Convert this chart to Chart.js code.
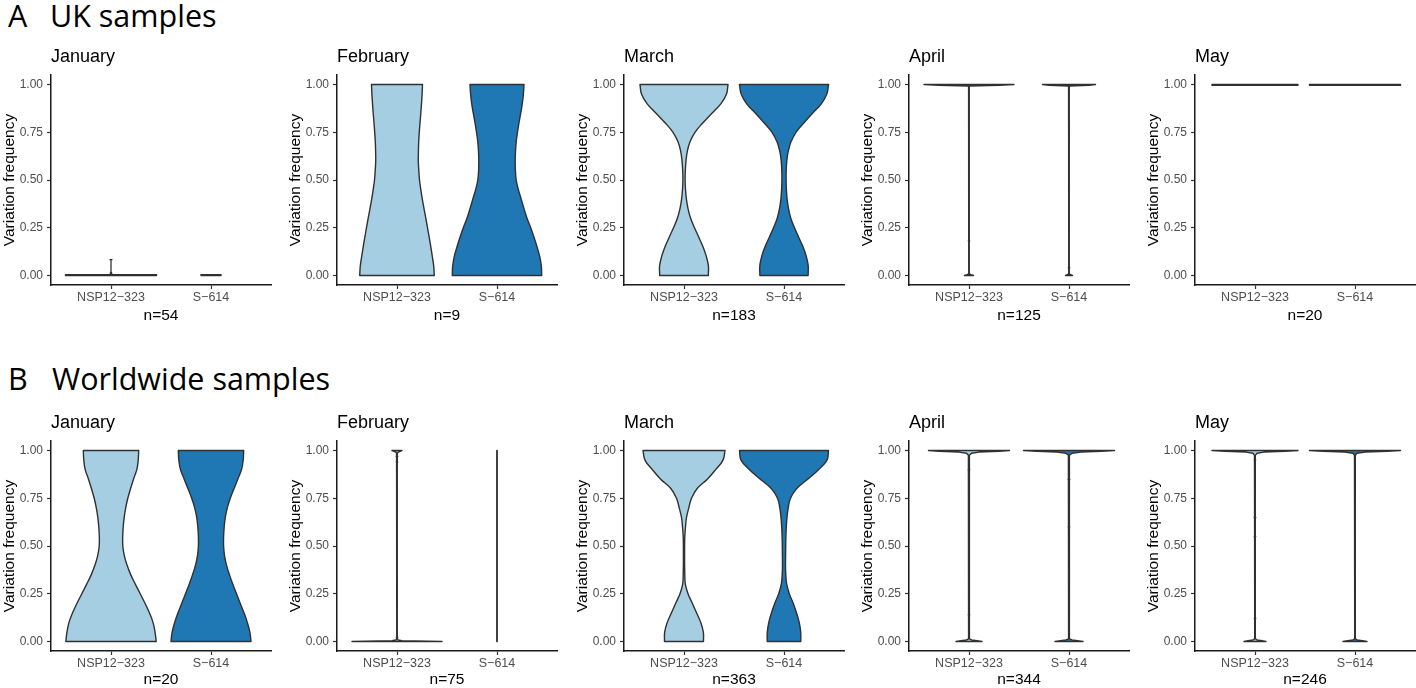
<!DOCTYPE html>
<html>
<head>
<meta charset="utf-8">
<script src="https://cdn.jsdelivr.net/npm/chart.js@4.4.0/dist/chart.umd.min.js"></script>
<style>
  html, body { margin: 0; padding: 0; background: #fff; overflow: hidden; }
  body { position: relative; width: 1416px; height: 688px; }
  .head { position: absolute; font-family: "Open Sans", sans-serif; font-size: 30.5px; line-height: 1; color: #000; white-space: pre; }
</style>
</head>
<body>
<div class="head" style="left:8px;top:0px">A</div>
<div class="head" style="left:50px;top:0px">UK samples</div>
<div class="head" style="left:8px;top:363px">B</div>
<div class="head" style="left:52px;top:363px">Worldwide samples</div>

<script>
// ---- data ----
const months = ['January', 'February', 'March', 'April', 'May'];
const variants = ['NSP12\u2212323', 'S\u2212614'];
const ukCounts = [54, 9, 183, 125, 20];
const wwCounts = [20, 75, 363, 344, 246];
const yTicks = [0, 0.25, 0.5, 0.75, 1];
const fillColors = ['#a6cee3', '#1f78b4'];

// violin half-widths (category units) at these frequency levels
const smoothLevels = [0, .05, .1, .15, .2, .25, .3, .35, .4, .45, .5, .55, .6, .65, .7, .75, .8, .85, .9, .95, 1];
const spikeLevels = [0, .004, .008, .014, .025, .5, .975, .986, .992, .996, 1];

// UK samples
const ukJanNsp = [.455, .455, null, null, null, null, null, null, null, null, null];
const ukJanS = [.1, .1, null, null, null, null, null, null, null, null, null];
const ukFebNsp = [.373, .367, .353, .338, .322, .305, .288, .27, .253, .238, .225, .218, .213, .214, .217, .223, .23, .238, .245, .251, .255];
const ukFebS = [.447, .443, .427, .40, .37, .337, .30, .27, .242, .213, .192, .184, .182, .185, .192, .205, .22, .237, .253, .264, .27];
const ukMarNsp = [.243, .244, .223, .19, .148, .105, .066, .04, .024, .015, .011, .013, .02, .033, .06, .11, .19, .28, .37, .425, .44];
const ukMarS = [.241, .242, .223, .19, .147, .105, .068, .045, .031, .024, .021, .022, .028, .042, .07, .12, .2, .285, .375, .428, .446];
const ukAprNsp = [.045, .02, .005, .002, .002, .002, .002, .002, .004, .3, .45];
const ukAprS = [.035, .015, .005, .002, .002, .002, .002, .002, .004, .2, .265];
const ukMayNsp = [null, null, null, null, null, null, null, null, null, .43, .43];
const ukMayS = [null, null, null, null, null, null, null, null, null, .455, .455];

// Worldwide samples
const wwJanNsp = [.452, .44, .42, .384, .34, .292, .243, .197, .16, .133, .118, .117, .122, .132, .147, .168, .195, .225, .258, .272, .277];
const wwJanS = [.40, .388, .363, .33, .292, .255, .218, .184, .155, .135, .126, .126, .132, .143, .163, .193, .23, .268, .305, .322, .327];
const wwFebNsp = [.45, .05, .01, .004, .002, .002, .002, .004, .012, .03, .05];
const wwFebS = [.002, .002, .002, .002, .002, .002, .002, .002, .002, .002, .002];
const wwMarNsp = [.195, .193, .167, .125, .083, .04, .013, .008, .006, .006, .006, .008, .015, .025, .048, .075, .13, .233, .317, .39, .41];
const wwMarS = [.168, .167, .152, .125, .092, .053, .027, .018, .015, .016, .017, .019, .023, .03, .042, .065, .125, .237, .345, .43, .445];
const wwAprNsp = [.13, .08, .025, .006, .003, .003, .006, .025, .1, .3, .405];
const wwAprS = [.14, .085, .03, .006, .003, .003, .006, .03, .12, .32, .455];
const wwMayNsp = [.11, .07, .02, .005, .002, .002, .005, .02, .09, .3, .43];
const wwMayS = [.12, .075, .02, .005, .002, .002, .005, .02, .1, .32, .455];

// single observations drawn as small points
const ukJanNspDots = [0.012];
const ukJanNspWhisker = [0, 0.083];
const ukAprNspDots = [0.18];
const ukAprSDots = [0.04];
const wwFebNspDots = [0.02, 0.94, 0.97];
const wwAprNspDots = [0.14, 0.9];
const wwAprSDots = [0.6, 0.85];
const wwMayNspDots = [0.12, 0.55, 0.65, 0.95];

// ---- layout ----
Chart.defaults.font.family = "'Liberation Sans', Arial, sans-serif";
const panelAxisX = [51, 337, 624, 909, 1195];
const rows = [
  { top: 30, height: 295, xHeight: 40, counts: ukCounts,
    violins: [[ukJanNsp, ukJanS], [ukFebNsp, ukFebS], [ukMarNsp, ukMarS], [ukAprNsp, ukAprS], [ukMayNsp, ukMayS]],
    dots: [[ukJanNspDots, []], [[], []], [[], []], [ukAprNspDots, ukAprSDots], [[], []]],
    whisker: [ukJanNspWhisker, null, null, null, null] },
  { top: 396, height: 293, xHeight: 38, counts: wwCounts,
    violins: [[wwJanNsp, wwJanS], [wwFebNsp, wwFebS], [wwMarNsp, wwMarS], [wwAprNsp, wwAprS], [wwMayNsp, wwMayS]],
    dots: [[[], []], [wwFebNspDots, []], [[], []], [wwAprNspDots, wwAprSDots], [wwMayNspDots, []]],
    whisker: [null, null, null, null, null] }
];

function violinPoints(center, widths) {
  const levels = widths.length === smoothLevels.length ? smoothLevels : spikeLevels;
  const idx = [];
  widths.forEach((w, i) => { if (w !== null) idx.push(i); });
  const right = idx.map(i => ({ x: center + widths[i], y: levels[i] }));
  const left = idx.slice().reverse().map(i => ({ x: center - widths[i], y: levels[i] }));
  const y0 = levels[idx[0]];
  const y1 = levels[idx[idx.length - 1]];
  // corners are doubled so the curve stays sharp there
  return [
    { x: center, y: y0 }, right[0], ...right, right[right.length - 1],
    { x: center, y: y1 }, left[0], ...left, left[left.length - 1],
    { x: center, y: y0 }
  ];
}

function violinDataset(center, widths, color) {
  return {
    data: violinPoints(center, widths),
    showLine: true,
    fill: 'shape',
    backgroundColor: color,
    borderColor: '#303030',
    borderWidth: 1.4,
    borderJoinStyle: 'round',
    pointRadius: 0,
    pointHoverRadius: 0,
    tension: widths.length === smoothLevels.length ? 0.4 : 0,
    order: 1
  };
}

function dotDataset(center, ys) {
  return {
    data: ys.map(y => ({ x: center, y: y })),
    showLine: false,
    pointRadius: 1.3,
    pointBackgroundColor: '#333333',
    pointBorderWidth: 0,
    order: 0
  };
}

function whiskerDataset(center, range) {
  return {
    data: [{ x: center, y: range[0] }, { x: center, y: range[1] },
           { x: center - 0.015, y: range[1] }, { x: center + 0.015, y: range[1] }],
    showLine: true,
    fill: false,
    borderColor: '#333333',
    borderWidth: 1.3,
    pointRadius: 0,
    order: 0
  };
}

rows.forEach(row => {
  months.forEach((month, k) => {
    const cv = document.createElement('canvas');
    cv.width = 284;
    cv.height = row.height;
    cv.style.cssText = 'position:absolute;left:' + (panelAxisX[k] - 51) + 'px;top:' + row.top +
      'px;width:284px;height:' + row.height + 'px';
    document.body.appendChild(cv);

    const datasets = [];
    row.violins[k].forEach((w, j) => datasets.push(violinDataset(j + 1, w, fillColors[j])));
    row.dots[k].forEach((ys, j) => { if (ys.length) datasets.push(dotDataset(j + 1, ys)); });
    if (row.whisker[k]) datasets.push(whiskerDataset(1, row.whisker[k]));

    new Chart(cv, {
      type: 'scatter',
      data: { datasets },
      options: {
        responsive: false,
        devicePixelRatio: 1,
        animation: false,
        events: [],
        layout: { padding: { left: 0, right: 13, top: 0, bottom: 0 } },
        plugins: {
          legend: { display: false },
          tooltip: { enabled: false },
          title: {
            display: true, text: month, align: 'start', fullSize: false, color: '#000',
            font: { size: 18, weight: 'normal', lineHeight: 1.2 },
            padding: { top: 16.7, bottom: 6.7 }
          }
        },
        scales: {
          x: {
            type: 'linear', min: 0.4, max: 2.6,
            afterBuildTicks: s => { s.ticks = [1, 2].map(v => ({ value: v })); },
            afterFit: s => { s.height = row.xHeight; },
            ticks: { callback: v => variants[v - 1], color: '#4d4d4d', font: { size: 12.5 },
                     padding: 1, maxRotation: 0, autoSkip: false },
            grid: { drawOnChartArea: false, drawTicks: true, tickLength: 4, tickColor: '#333333', tickWidth: 1.2 },
            border: { display: true, color: '#1a1a1a', width: 1.5 },
            title: { display: true, text: 'n=' + row.counts[k], color: '#000',
                     font: { size: 15.5 }, padding: { top: 0, bottom: 0 } }
          },
          y: {
            type: 'linear', min: -0.05, max: 1.05,
            afterBuildTicks: s => { s.ticks = yTicks.map(v => ({ value: v })); },
            afterFit: s => { s.width = 51; },
            ticks: { callback: v => v.toFixed(2), color: '#4d4d4d', font: { size: 12 }, padding: 4 },
            grid: { drawOnChartArea: false, drawTicks: true, tickLength: 4, tickColor: '#333333', tickWidth: 1.2 },
            border: { display: true, color: '#1a1a1a', width: 1.5 },
            title: { display: true, text: 'Variation frequency', color: '#000',
                     font: { size: 15.5 }, padding: { top: 0, bottom: 0 } }
          }
        }
      }
    });
  });
});
</script>
</body>
</html>
